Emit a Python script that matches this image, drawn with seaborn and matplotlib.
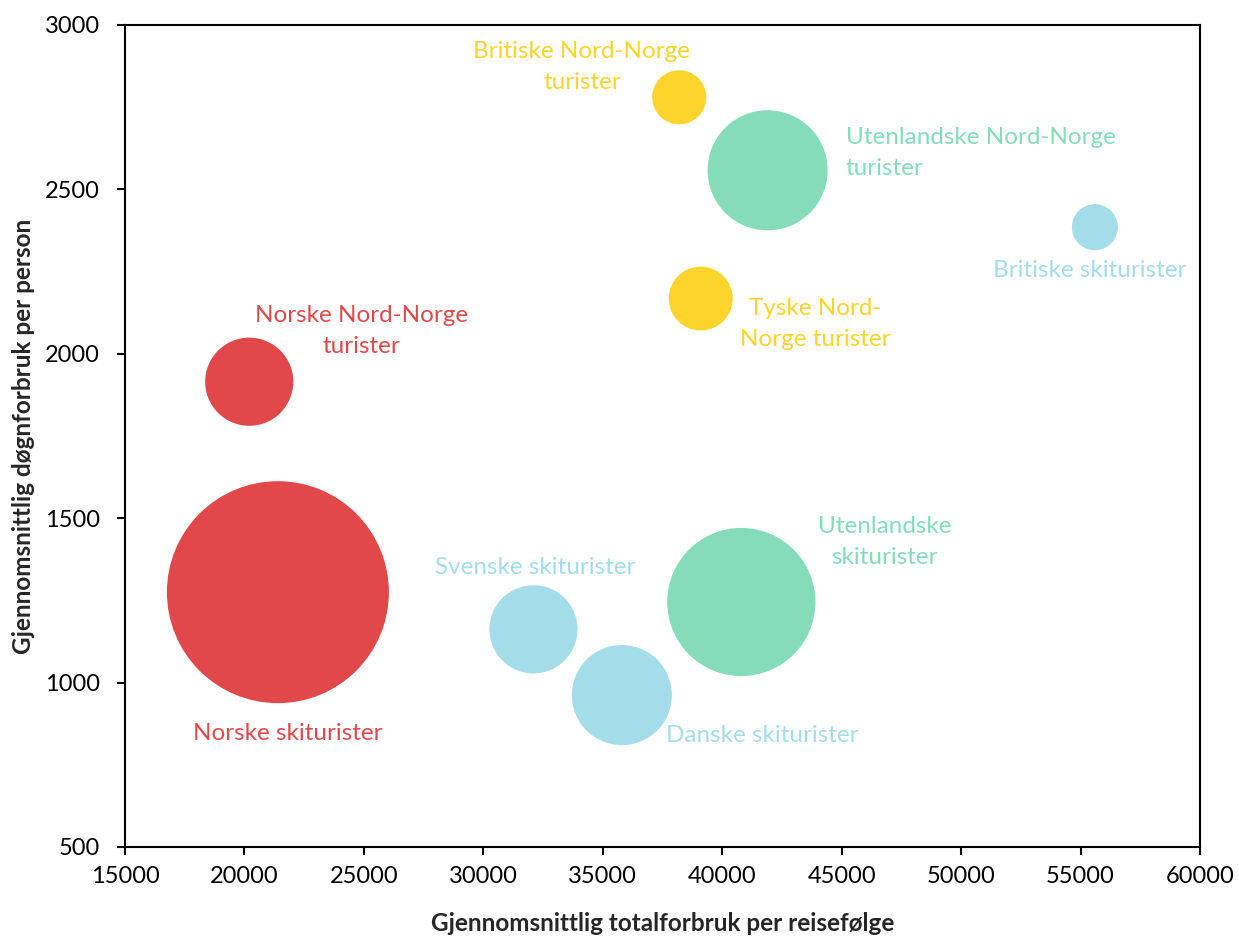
import matplotlib.pyplot as plt
import numpy as np
import pandas as pd
import seaborn as sns

# -- data
navn = [
    "Norske skiturister", "Norske Nord-Norge turister", "Britiske Nord-Norge turister",
    "Utenlandske Nord-Norge turister", "Tyske Nord-Norge turister", "Britiske skiturister",
    "Svenske skiturister", "Danske skiturister", "Utenlandske skiturister",
]
totalforbruk = [21400, 20200, 38200, 41900, 39100, 55600, 32100, 35800, 40800]
dognforbruk = [1275, 1915, 2780, 2558, 2168, 2385, 1162, 962, 1245]
bobleverdi = [12300, 1940, 730, 3600, 1020, 530, 1940, 2500, 5480]
farger = ["#E0484A", "#E0484A", "#FCD42C", "#84DCBA", "#FCD42C", "#A4DCEA",
          "#A4DCEA", "#A4DCEA", "#84DCBA"]

etiketter = [
    "Norske skiturister", "Norske Nord-Norge\nturister", "Britiske Nord-Norge\nturister",
    "Utenlandske Nord-Norge\nturister", "Tyske Nord-\nNorge turister", "Britiske skiturister",
    "Svenske skiturister", "Danske skiturister", "Utenlandske\nskiturister",
]
etikett_x = [21800, 24900, 34130, 45180, 43880, 55400, 32160, 41660, 46810]
etikett_y = [844, 2069, 2872, 2611, 2091, 2252, 1349, 838, 1428]
etikett_ha = ["center", "center", "center", "left", "center", "center", "center", "center", "center"]

df = pd.DataFrame({"navn": navn, "x": totalforbruk, "y": dognforbruk, "verdi": bobleverdi})

sns.set_theme(style="white")
plt.rcParams["font.family"] = ["Lato", "DejaVu Sans"]

fig = plt.figure(figsize=(12.39, 9.39), dpi=100)
ax = fig.add_axes([0.1009, 0.098, 0.8676, 0.8754])

# bubble area proportional to value; largest radius ~111 px
smax = (2 * 111 * 0.72) ** 2
sns.scatterplot(
    data=df, x="x", y="y", hue="navn", palette=farger, size="verdi",
    sizes=(0, smax), size_norm=(0, max(bobleverdi)), linewidth=0, alpha=1,
    legend=False, ax=ax,
)

for tekst, tx, ty, ha, c in zip(etiketter, etikett_x, etikett_y, etikett_ha, farger):
    ax.text(tx, ty, tekst, color=c, ha=ha, va="center", fontsize=17.5, linespacing=1.55)

ax.set_xlim(15000, 60000)
ax.set_ylim(500, 3000)
ax.set_xticks(np.arange(15000, 60001, 5000))
ax.set_yticks(np.arange(500, 3001, 500))
ax.tick_params(axis="both", labelsize=17, length=6, width=1.5, direction="out",
               bottom=True, left=True, colors="black")
ax.tick_params(axis="y", pad=12)
ax.tick_params(axis="x", pad=8)

for sp in ax.spines.values():
    sp.set_color("black")
    sp.set_linewidth(1.5)

ax.set_xlabel("Gjennomsnittlig totalforbruk per reisefølge", fontsize=17.5,
              fontweight="bold", labelpad=18)
ax.set_ylabel("Gjennomsnittlig døgnforbruk per person", fontsize=17.5,
              fontweight="bold", labelpad=7)

fig.savefig("out.png", dpi=100)
